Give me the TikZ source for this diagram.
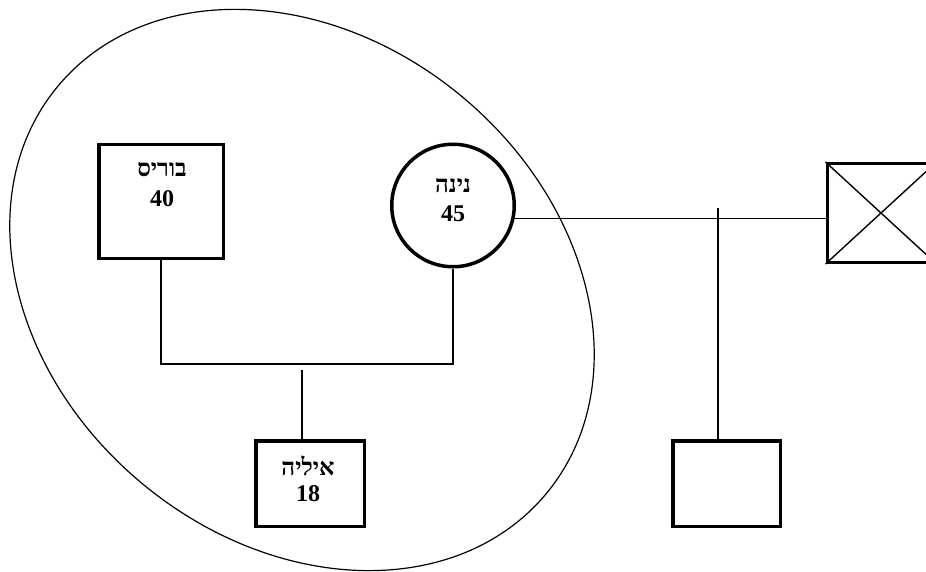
\documentclass[tikz,border=0pt]{standalone}
\usepackage{fontspec}
\setmainfont{Liberation Serif}
\newfontfamily\hebfont[Script=Hebrew]{Liberation Serif}
\TeXXeTstate=1
\begin{document}
\begin{tikzpicture}[x=1pt,y=-1pt,
  male/.style={draw, rectangle, line width=3.5pt, inner sep=0pt},
  female/.style={draw, circle, line width=3.5pt, inner sep=0pt},
  tie/.style={line width=1.4pt},
  txt/.style={font=\bfseries\fontsize{24}{30}\selectfont, inner sep=0pt, anchor=base},
  heb/.style={txt, font=\hebfont\bfseries\fontsize{24}{30}\selectfont}]
\useasboundingbox (0,0) rectangle (926,572);

% the household boundary
\draw[line width=1.2pt, rotate around={-40:(302,290)}] (302,290) ellipse [x radius=318pt, y radius=251pt];

% people
\node[male, minimum width=124.5pt, minimum height=113.5pt] (boris) at (161,201.5) {};
\node[female, minimum size=122.5pt] (nina) at (453,205.5) {};
\node[male, minimum width=108.5pt, minimum height=85.5pt] (ilya) at (310,483.5) {};
\node[male, minimum width=107.5pt, minimum height=98.5pt] (xman) at (881,213) {};
\node[male, minimum width=107.5pt, minimum height=85.5pt] (sib) at (726.5,483.5) {};
\draw[tie] (xman.north west) -- (xman.south east) (xman.south west) -- (xman.north east);

% names and ages
\node[heb] (borisname) at (162,177) {\beginR בוריס\endR};
\node[txt] (borisage) at (162,207) {40};
\node[heb] (ninaname) at (453,193) {\beginR נינה\endR};
\node[txt] (ninaage) at (453,222) {45};
\node[heb] (ilyaname) at (308,475) {\beginR איליה\endR};
\node[txt] (ilyaage) at (308,501) {18};

% marriage and children lines
\coordinate (mar) at (300,364);
\draw[tie] (boris.south) -- (boris.south |- mar) -- (nina.south |- mar) -- (nina.south);
\coordinate (kid) at (302,370);
\draw[tie] (kid) -- (kid |- ilya.north);
\draw[tie] (nina.-12.4) -- (nina.-12.4 -| xman.west);
\coordinate (sibtop) at (718,208);
\draw[tie] (sibtop) -- (sibtop |- sib.north);
\end{tikzpicture}
\end{document}
